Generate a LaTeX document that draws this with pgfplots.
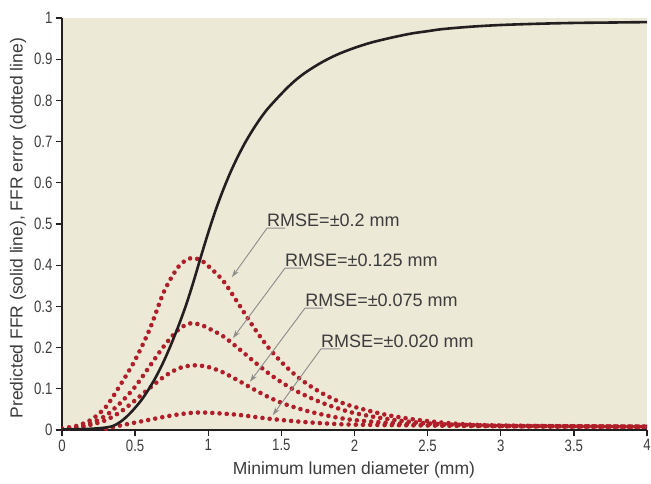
\documentclass[border=0pt]{standalone}
\usepackage{fontspec}
\setmainfont{Liberation Sans}
\newfontfamily\tickfont[FakeStretch=0.8]{Liberation Sans}
\usepackage{pgfplots}
\pgfplotsset{compat=1.18}
\usetikzlibrary{arrows.meta}

\definecolor{bgbeige}{RGB}{237,233,215}
\definecolor{errred}{RGB}{176,30,42}
\definecolor{curveblack}{RGB}{35,31,32}
\definecolor{txtgray}{RGB}{60,60,60}
\definecolor{arrgray}{RGB}{140,140,140}

\tikzset{
  errdots/.style={errred, line width=4.6pt, line cap=round, dash pattern=on 0pt off 7.2pt, smooth},
  rmsearrow/.style={arrgray, line width=0.9pt, -{Stealth[length=8pt,width=5pt]}},
  rmselabel/.style={anchor=base west, inner sep=0pt, text=txtgray, font=\fontsize{18}{21}\selectfont},
}

\begin{document}
\begin{tikzpicture}
\path[use as bounding box] (-62pt,-53pt) rectangle (589pt,430pt);
\begin{axis}[
  at={(0pt,0pt)}, anchor=south west,
  scale only axis, width=585pt, height=412pt,
  xmin=0, xmax=4, ymin=0, ymax=1,
  axis lines=left,
  axis line style={-, line width=1.6pt, color=curveblack},
  axis background/.style={fill=bgbeige},
  tick align=outside, major tick length=6pt,
  tick style={line width=1.3pt, color=curveblack},
  xtick={0,0.5,1,1.5,2,2.5,3,3.5,4},
  xticklabels={0,0.5,1,1.5,2,2.5,3,3.5,4},
  ytick={0,0.1,0.2,0.3,0.4,0.5,0.6,0.7,0.8,0.9,1},
  yticklabels={0,0.1,0.2,0.3,0.4,0.5,0.6,0.7,0.8,0.9,1},
  /pgf/number format/assume math mode=true,
  tick label style={font=\tickfont\fontsize{16.5}{18}\selectfont, text=txtgray},
  xlabel={Minimum lumen diameter (mm)},
  ylabel={Predicted FFR (solid line), FFR error (dotted line)},
  label style={font=\fontsize{17.5}{20}\selectfont, text=txtgray},
  xlabel style={at={(axis description cs:0.499,-0.097)}, anchor=center},
  ylabel style={at={(axis description cs:-0.0752,0.49)}, anchor=center},
]
% RMSE = 0.2 mm
\addplot[errdots] coordinates {
(0,0.004) (0.1,0.010) (0.2,0.025) (0.3,0.056) (0.4,0.110) (0.5,0.170)
(0.6,0.245) (0.7,0.338) (0.8,0.398) (0.88,0.417) (0.95,0.412) (1.0,0.398)
(1.1,0.363) (1.2,0.310) (1.3,0.255) (1.4,0.205) (1.5,0.165) (1.6,0.132)
(1.7,0.106) (1.8,0.085) (1.9,0.068) (2.0,0.056) (2.2,0.038) (2.4,0.026)
(2.6,0.018) (2.8,0.013) (3.0,0.011) (3.5,0.009) (4.0,0.008)};
% RMSE = 0.125 mm
\addplot[errdots] coordinates {
(0,0.003) (0.1,0.007) (0.2,0.017) (0.3,0.035) (0.4,0.066) (0.5,0.105)
(0.6,0.155) (0.7,0.205) (0.8,0.245) (0.88,0.259) (0.95,0.255) (1.0,0.247)
(1.1,0.228) (1.2,0.200) (1.3,0.170) (1.4,0.141) (1.5,0.116) (1.6,0.095)
(1.7,0.078) (1.8,0.063) (1.9,0.051) (2.0,0.041) (2.2,0.028) (2.4,0.019)
(2.6,0.014) (2.8,0.012) (3.0,0.010) (3.5,0.009) (4.0,0.008)};
% RMSE = 0.075 mm
\addplot[errdots] coordinates {
(0,0.002) (0.1,0.005) (0.2,0.013) (0.3,0.024) (0.4,0.044) (0.5,0.072)
(0.6,0.102) (0.7,0.130) (0.8,0.150) (0.9,0.157) (1.0,0.153) (1.1,0.140)
(1.2,0.121) (1.3,0.101) (1.4,0.082) (1.5,0.066) (1.6,0.054) (1.7,0.044)
(1.8,0.036) (1.9,0.029) (2.0,0.024) (2.2,0.018) (2.4,0.014) (2.6,0.012)
(3.0,0.010) (3.5,0.009) (4.0,0.008)};
% RMSE = 0.020 mm
\addplot[errdots] coordinates {
(0.3,0.003) (0.4,0.011) (0.5,0.018) (0.6,0.025) (0.7,0.032) (0.8,0.038)
(0.9,0.042) (1.0,0.042) (1.2,0.037) (1.4,0.028) (1.6,0.021) (1.8,0.016)
(2.0,0.013) (2.5,0.011) (3.0,0.009) (3.5,0.008) (4.0,0.008)};
% predicted FFR
\addplot[curveblack, line width=2.6pt, smooth] coordinates {
(0,0.001) (0.1,0.002) (0.2,0.003) (0.3,0.006) (0.35,0.010) (0.4,0.020)
(0.45,0.035) (0.5,0.054) (0.55,0.076) (0.6,0.103) (0.65,0.134) (0.7,0.170)
(0.75,0.211) (0.8,0.256) (0.85,0.305) (0.9,0.361) (0.95,0.421) (1.0,0.479)
(1.05,0.533) (1.1,0.581) (1.15,0.624) (1.2,0.662) (1.25,0.696) (1.3,0.726)
(1.35,0.753) (1.4,0.777) (1.45,0.797) (1.5,0.816) (1.55,0.834) (1.6,0.850)
(1.65,0.864) (1.7,0.876) (1.75,0.887) (1.8,0.897) (1.85,0.906) (1.9,0.914)
(1.95,0.921) (2.0,0.9275) (2.1,0.939) (2.2,0.948) (2.3,0.956) (2.4,0.963)
(2.5,0.968) (2.6,0.973) (2.8,0.979) (3.0,0.983) (3.25,0.986) (3.5,0.988)
(3.75,0.989) (4.0,0.990)};

% annotations
\draw[rmsearrow] (axis cs:1.525,0.490) -- (axis cs:1.402,0.490) -- (axis cs:1.162,0.371);
\node[rmselabel] at ([yshift=1.5pt]axis cs:1.402,0.490) {RMSE=±0.2 mm};
\draw[rmsearrow] (axis cs:1.648,0.393) -- (axis cs:1.525,0.393) -- (axis cs:1.169,0.223);
\node[rmselabel] at ([yshift=1.5pt]axis cs:1.525,0.393) {RMSE=±0.125 mm};
\draw[rmsearrow] (axis cs:1.785,0.296) -- (axis cs:1.662,0.296) -- (axis cs:1.285,0.117);
\node[rmselabel] at ([yshift=1.5pt]axis cs:1.662,0.296) {RMSE=±0.075 mm};
\draw[rmsearrow] (axis cs:1.901,0.197) -- (axis cs:1.771,0.197) -- (axis cs:1.441,0.036);
\node[rmselabel] at ([yshift=1.5pt]axis cs:1.771,0.197) {RMSE=±0.020 mm};
\end{axis}
\end{tikzpicture}
\end{document}
